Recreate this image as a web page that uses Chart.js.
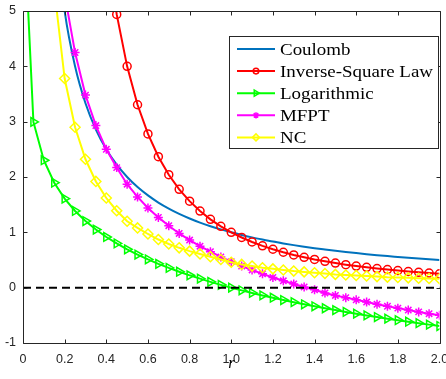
<!DOCTYPE html>
<html>
<head>
<meta charset="utf-8">
<script src="https://cdn.jsdelivr.net/npm/chart.js@4.4.0/dist/chart.umd.min.js"></script>
<style>
  html, body { margin: 0; padding: 0; background: #fff; }
</style>
</head>
<body>
<canvas id="myChart" width="446" height="379"></canvas>
<script>
// sample positions along r (first point sits just right of the axis, last one just past it)
const r = [0.001, 0.05, 0.10, 0.15, 0.20, 0.25, 0.30, 0.35, 0.40, 0.45, 0.50, 0.55, 0.60, 0.65, 0.70, 0.75, 0.80, 0.85, 0.90, 0.95,
  1.00, 1.05, 1.10, 1.15, 1.20, 1.25, 1.30, 1.35, 1.40, 1.45, 1.50, 1.55, 1.60, 1.65, 1.70, 1.75, 1.80, 1.85, 1.90, 1.95, 2.00, 2.05];

const coulomb = [null, null, null, 6.667, 5, 4, 3.333, 2.857, 2.5, 2.222, 2, 1.818, 1.667, 1.538, 1.429, 1.333, 1.25, 1.176, 1.111, 1.053,
  1, 0.952, 0.909, 0.870, 0.833, 0.8, 0.769, 0.741, 0.714, 0.690, 0.667, 0.645, 0.625, 0.606, 0.588, 0.571, 0.556, 0.541, 0.526, 0.513, 0.5, 0.488];

const inverseSquare = [null, null, null, null, null, null, null, null, 6.25, 4.938, 4, 3.306, 2.778, 2.367, 2.041, 1.778, 1.563, 1.384, 1.235, 1.108,
  1, 0.907, 0.826, 0.756, 0.694, 0.64, 0.592, 0.549, 0.510, 0.476, 0.444, 0.416, 0.391, 0.367, 0.346, 0.327, 0.309, 0.292, 0.277, 0.263, 0.25, 0.238];

const logarithmic = [6.908, 2.996, 2.303, 1.897, 1.609, 1.386, 1.204, 1.050, 0.916, 0.799, 0.693, 0.598, 0.511, 0.431, 0.357, 0.288, 0.223, 0.163, 0.105, 0.051,
  0, -0.049, -0.095, -0.140, -0.182, -0.223, -0.262, -0.300, -0.336, -0.372, -0.405, -0.438, -0.470, -0.501, -0.531, -0.560, -0.588, -0.615, -0.642, -0.668, -0.693, -0.718];

const mfpt = [null, null, null, 7.0, 5.3, 4.25, 3.48, 2.93, 2.50, 2.17, 1.87, 1.64, 1.44, 1.27, 1.12, 0.98, 0.86, 0.75, 0.65, 0.555,
  0.47, 0.39, 0.32, 0.25, 0.185, 0.124, 0.067, 0.013, -0.038, -0.095, -0.14, -0.18, -0.22, -0.26, -0.30, -0.336, -0.37, -0.405, -0.438, -0.47, -0.50, -0.53];

const nc = [null, null, null, 5.4, 3.78, 2.90, 2.32, 1.92, 1.62, 1.39, 1.20, 1.08, 0.97, 0.87, 0.79, 0.72, 0.66, 0.61, 0.56, 0.51,
  0.46, 0.42, 0.39, 0.36, 0.34, 0.32, 0.30, 0.285, 0.27, 0.255, 0.24, 0.23, 0.22, 0.21, 0.20, 0.19, 0.185, 0.177, 0.171, 0.165, 0.16, 0.155];

const zeroX = [0, 2];
const zeroY = [0, 0];

const legendOrder = ["Coulomb", "Inverse-Square Law", "Logarithmic", "MFPT", "NC"];

function pts(xs, ys) {
  return xs.map((x, i) => ({ x: x, y: ys[i] }));
}

function series(label, ys, color, style, radius, rotation) {
  return {
    label: label,
    data: pts(r, ys),
    borderColor: color,
    borderWidth: 2,
    pointStyle: style,
    pointRadius: radius,
    pointRotation: rotation || 0,
    pointBorderWidth: 1.5,
    pointBorderColor: color,
    pointBackgroundColor: "rgba(0,0,0,0)",
    pointHoverRadius: radius
  };
}

// chart.js draws dataset 0 last, so the list is in reverse of the legend
const datasets = [
  { label: "zero", data: pts(zeroX, zeroY), borderColor: "#000", borderWidth: 2, borderDash: [8, 5], pointRadius: 0 },
  series("NC", nc, "#FFFF00", "rectRot", 5),
  series("MFPT", mfpt, "#FF00FF", "star", 4.5),
  series("Logarithmic", logarithmic, "#00FF00", "triangle", 5, 90),
  series("Inverse-Square Law", inverseSquare, "#FF0000", "circle", 4),
  { label: "Coulomb", data: pts(r, coulomb), borderColor: "#0072BD", borderWidth: 2, pointRadius: 0, cubicInterpolationMode: "monotone" }
];

const axisColor = "#262626";
const tickFont = { family: "'Liberation Sans', Arial, Helvetica, sans-serif", size: 12.5 };
const serif = "'Liberation Serif', 'Times New Roman', serif";

const frame = {
  id: "frame",
  afterDatasetsDraw(chart) {
    const ctx = chart.ctx;
    const a = chart.chartArea;
    const x = chart.scales.x, y = chart.scales.y;
    const L = Math.round(a.left) + 0.5, R = Math.round(a.right) + 0.5;
    const T = Math.floor(a.top) + 0.5, B = Math.round(a.bottom) + 0.5;
    ctx.save();
    ctx.strokeStyle = axisColor;
    ctx.lineWidth = 1;
    ctx.beginPath();
    ctx.rect(L, T, R - L, B - T);
    x.ticks.forEach(t => {
      const px = Math.round(x.getPixelForValue(t.value)) + 0.5;
      ctx.moveTo(px, B); ctx.lineTo(px, B - 4);
      ctx.moveTo(px, T); ctx.lineTo(px, T + 4);
    });
    y.ticks.forEach(t => {
      const py = Math.round(y.getPixelForValue(t.value)) + 0.5;
      ctx.moveTo(L, py); ctx.lineTo(L + 4, py);
      ctx.moveTo(R, py); ctx.lineTo(R - 4, py);
    });
    ctx.stroke();

    // axis label
    ctx.fillStyle = "#000";
    ctx.font = "italic 16px " + serif;
    ctx.textAlign = "center";
    ctx.textBaseline = "alphabetic";
    ctx.fillText("r", (a.left + a.right) / 2, 368);

    // legend box
    const bx = 229.5, by = 36.5, bw = 209, bh = 112;
    ctx.fillStyle = "#fff";
    ctx.fillRect(bx, by, bw, bh);
    ctx.strokeStyle = axisColor;
    ctx.strokeRect(bx, by, bw, bh);

    ctx.font = "16px " + serif;
    ctx.textAlign = "left";
    const sx = 153 / ctx.measureText("Inverse-Square Law").width;
    legendOrder.forEach((name, i) => {
      const ds = chart.data.datasets.find(d => d.label === name);
      const rowY = 49 + i * 22.1;
      ctx.strokeStyle = ds.borderColor;
      ctx.lineWidth = 2;
      ctx.setLineDash([]);
      ctx.beginPath();
      ctx.moveTo(237, rowY); ctx.lineTo(275, rowY);
      ctx.stroke();
      if (ds.pointRadius > 0 && Chart.helpers && Chart.helpers.drawPoint) {
        ctx.lineWidth = 1.5;
        ctx.fillStyle = "rgba(0,0,0,0)";
        Chart.helpers.drawPoint(ctx, {
          pointStyle: ds.pointStyle,
          radius: ds.pointRadius * 0.7,
          rotation: ds.pointRotation,
          borderWidth: 1.5
        }, 256, rowY);
      }
      ctx.save();
      ctx.translate(280, rowY + 5.5);
      ctx.scale(sx, 1);
      ctx.fillStyle = "#000";
      ctx.fillText(name, 0, 0);
      ctx.restore();
    });
    ctx.restore();
  }
};

new Chart(document.getElementById("myChart").getContext("2d"), {
  type: "line",
  data: { datasets: datasets },
  options: {
    responsive: false,
    animation: false,
    events: [],
    layout: { padding: { top: 11, right: 2, left: 0, bottom: 0 } },
    plugins: { legend: { display: false }, tooltip: { enabled: false } },
    scales: {
      x: {
        type: "linear",
        min: 0,
        max: 2,
        ticks: { stepSize: 0.2, padding: 9, color: axisColor, font: tickFont, maxRotation: 0, autoSkip: false },
        grid: { display: false, drawTicks: false },
        border: { display: false },
        afterFit(s) { s.height = 36; s.paddingLeft = 0; s.paddingRight = 0; }
      },
      y: {
        min: -1,
        max: 5,
        ticks: { stepSize: 1, padding: 7, color: axisColor, font: tickFont },
        grid: { display: false, drawTicks: false },
        border: { display: false },
        afterFit(s) { s.width = 23; s.paddingTop = 0; s.paddingBottom = 0; }
      }
    }
  },
  plugins: [frame]
});
</script>
</body>
</html>
